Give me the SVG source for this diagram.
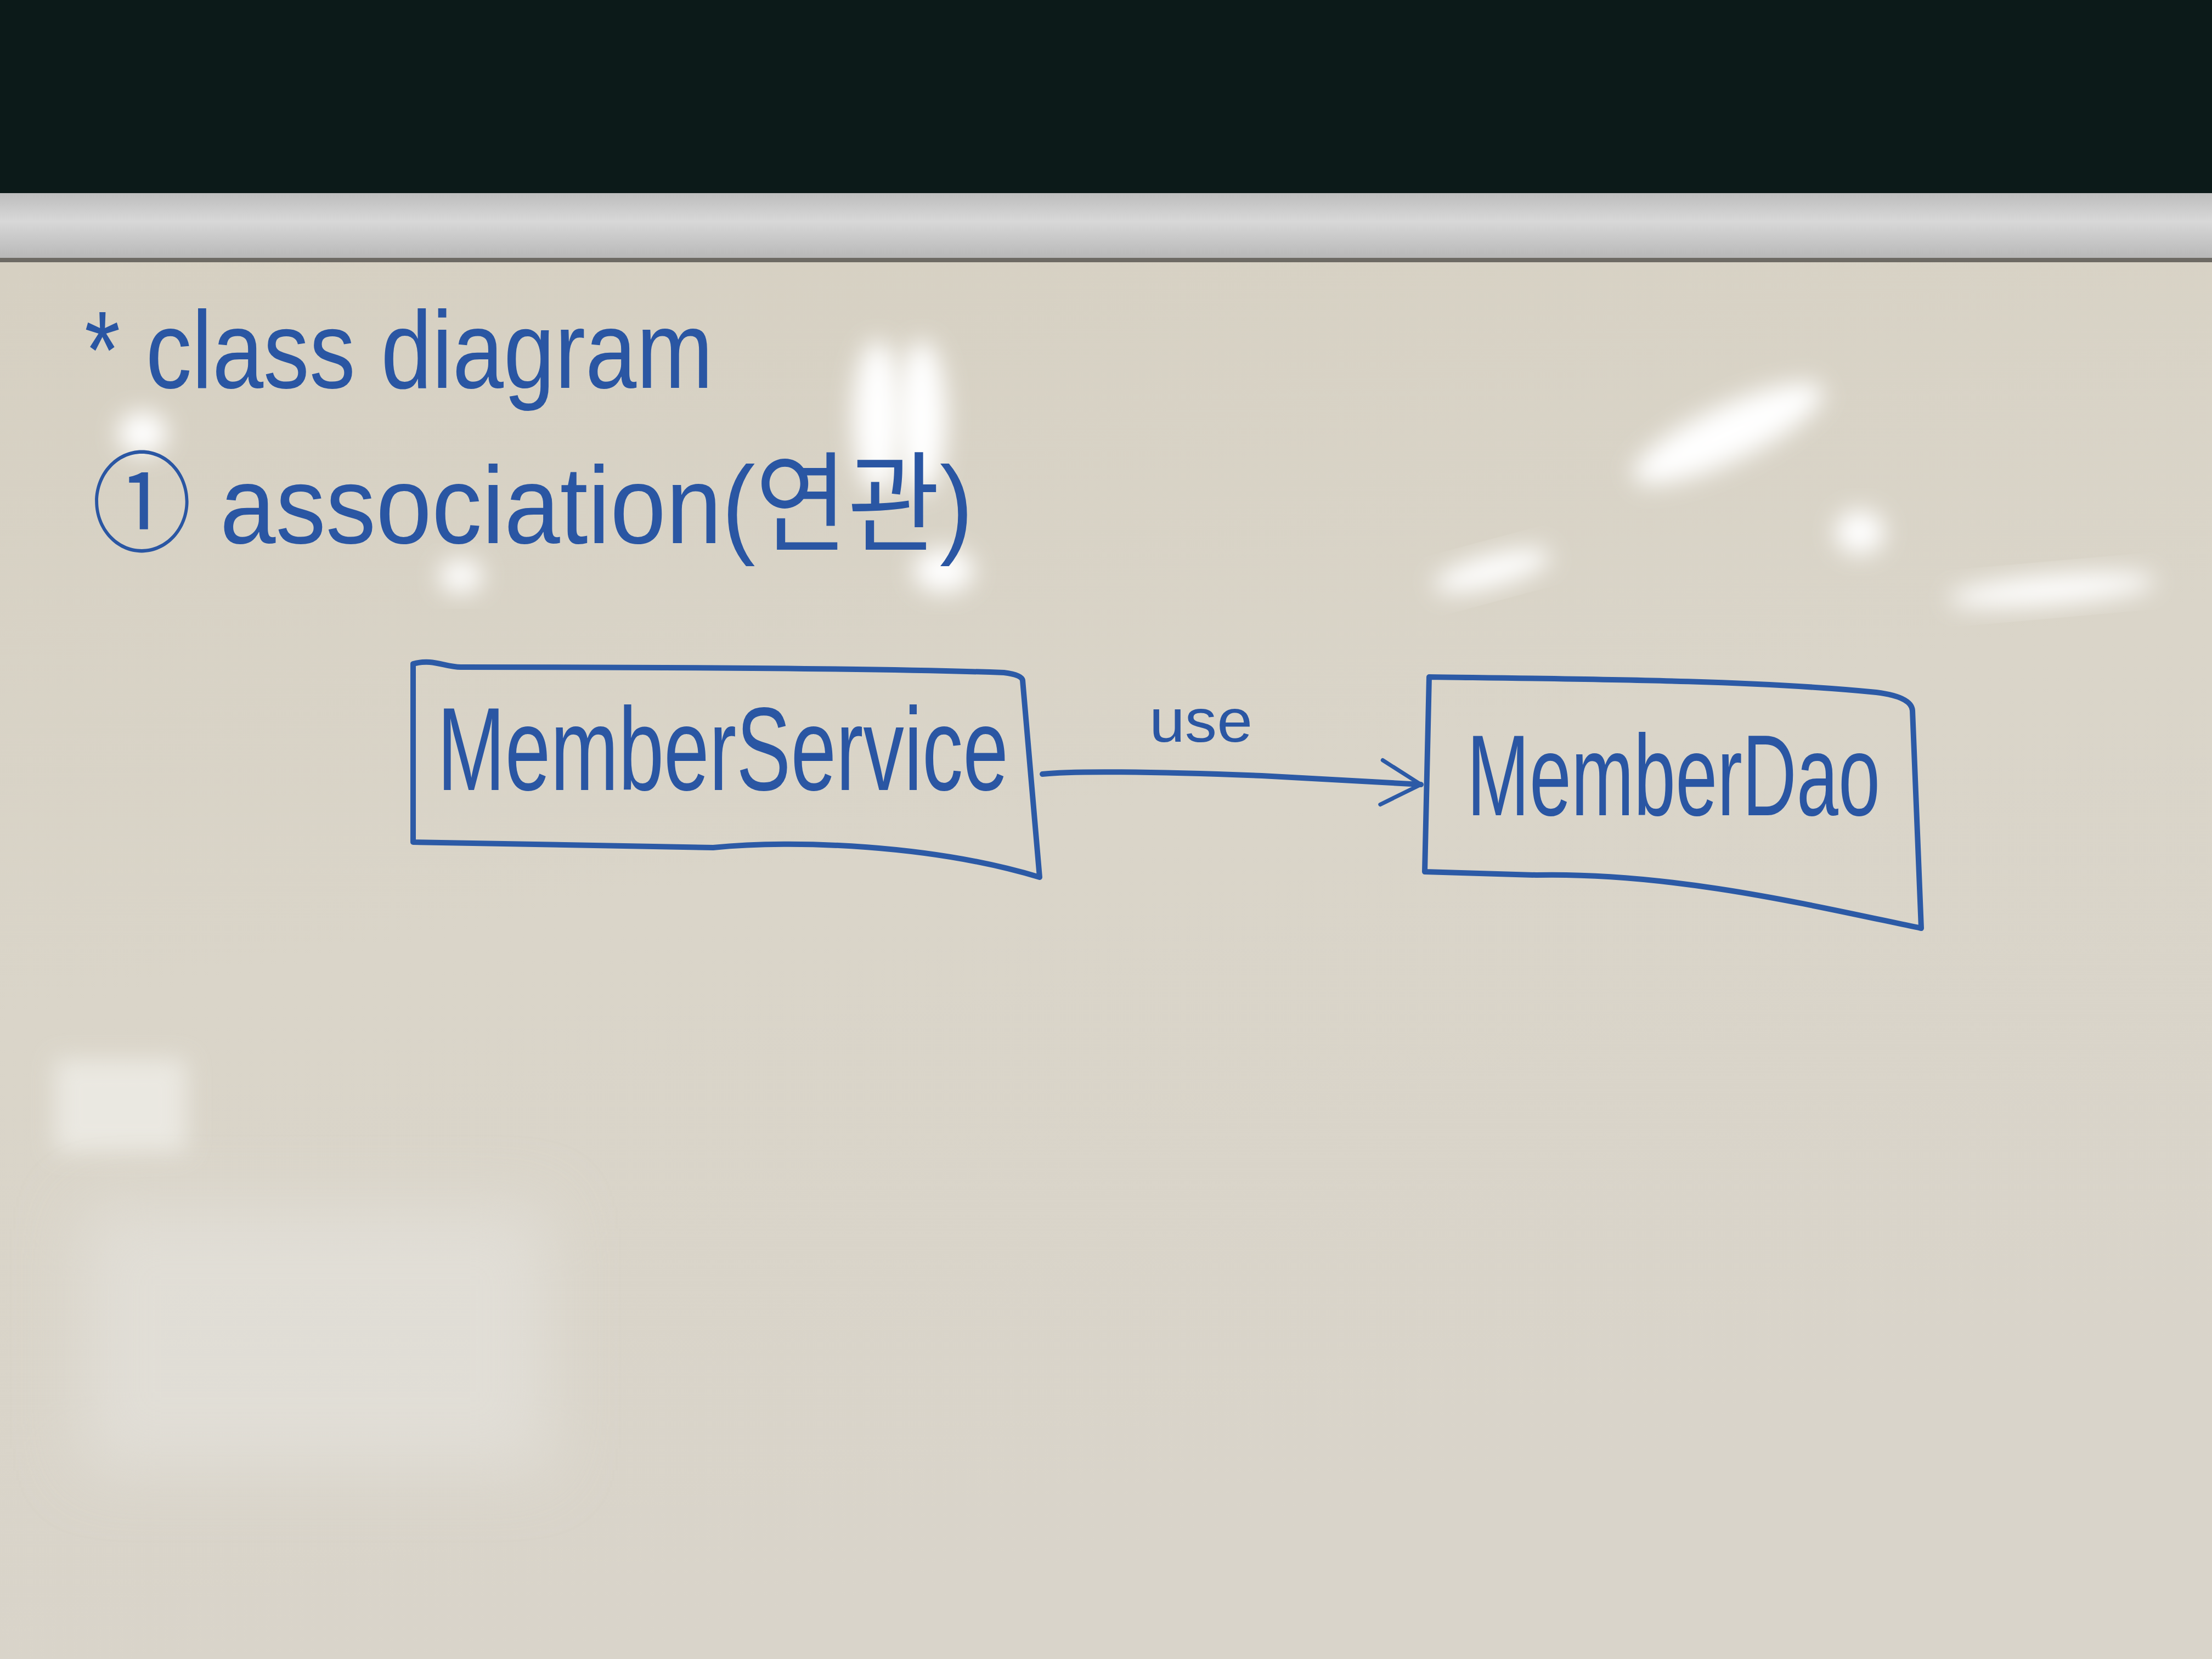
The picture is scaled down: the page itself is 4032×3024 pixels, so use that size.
<svg xmlns="http://www.w3.org/2000/svg" width="4032" height="3024" viewBox="0 0 4032 3024">
<defs>
<linearGradient id="board" x1="0" y1="0" x2="0.3" y2="1">
<stop offset="0" stop-color="#d6d0c2"/>
<stop offset="0.5" stop-color="#dad5c9"/>
<stop offset="1" stop-color="#d9d4ca"/>
</linearGradient>
<linearGradient id="rail" x1="0" y1="0" x2="0" y2="1">
<stop offset="0" stop-color="#bdbdbd"/>
<stop offset="0.4" stop-color="#d8d8d8"/>
<stop offset="1" stop-color="#b3b3b3"/>
</linearGradient>
<filter id="blur" x="-50%" y="-50%" width="200%" height="200%"><feGaussianBlur stdDeviation="22"/></filter>
<filter id="blurBig" x="-50%" y="-50%" width="200%" height="200%"><feGaussianBlur stdDeviation="60"/></filter>
<marker id="open" viewBox="0 0 20 20" refX="18" refY="10" markerWidth="9" markerHeight="9" orient="auto" markerUnits="strokeWidth">
<path d="M2,1 L18,10 L2,19" fill="none" stroke="#2c5aa6" stroke-width="1.6" stroke-linecap="round" stroke-linejoin="round"/>
</marker>
<style>
.ink{fill:none;stroke:#2c5aa6;stroke-width:10;stroke-linecap:round;stroke-linejoin:round}
.hand{fill:#2a56a3;font-family:"Liberation Sans","Noto Sans CJK KR",sans-serif;font-weight:normal}
</style>
</defs>
<rect x="0" y="0" width="4032" height="360" fill="#0c1a19"/>
<rect x="0" y="352" width="4032" height="128" fill="url(#rail)"/>
<rect x="0" y="470" width="4032" height="8" fill="#6d6a64"/>
<rect x="0" y="478" width="4032" height="2546" fill="url(#board)"/>
<g id="glare">
<ellipse cx="1600" cy="760" rx="45" ry="140" fill="#ffffff" filter="url(#blur)"/>
<ellipse cx="1680" cy="760" rx="45" ry="140" fill="#ffffff" filter="url(#blur)"/>
<ellipse cx="3150" cy="790" rx="190" ry="50" fill="#ffffff" filter="url(#blur)" transform="rotate(-25 3150 790)"/>
<ellipse cx="2720" cy="1040" rx="110" ry="28" fill="#ffffff" filter="url(#blur)" transform="rotate(-15 2720 1040)"/>
<ellipse cx="3740" cy="1075" rx="190" ry="26" fill="#ffffff" filter="url(#blur)" transform="rotate(-5 3740 1075)"/>
<ellipse cx="260" cy="790" rx="45" ry="40" fill="#ffffff" filter="url(#blur)"/>
<ellipse cx="1720" cy="1040" rx="55" ry="40" fill="#ffffff" filter="url(#blur)"/>
<ellipse cx="840" cy="1050" rx="40" ry="30" fill="#ffffff" filter="url(#blur)"/>
<ellipse cx="3390" cy="970" rx="45" ry="40" fill="#ffffff" filter="url(#blur)"/>
<rect x="100" y="1930" width="240" height="170" fill="#f2f1ec" filter="url(#blur)" opacity="0.7"/>
<rect x="150" y="2200" width="850" height="480" fill="#e6e4df" filter="url(#blurBig)" opacity="0.6"/>
</g>
<g id="title">
<text class="hand" x="154" y="707" font-size="200" textLength="1146" lengthAdjust="spacingAndGlyphs">* class diagram</text>
</g>
<g id="subtitle">
<text class="hand" x="167" y="990" font-size="200" textLength="1607" lengthAdjust="spacingAndGlyphs">① association(연관)</text>
</g>
<g id="MemberService">
<path class="ink" d="M753,1210 C790,1200 810,1216 840,1216 C1200,1216 1600,1218 1830,1226 Q1862,1230 1864,1240 L1895,1599 C1700,1540 1450,1530 1300,1545 L753,1535 Z"/>
<text class="hand" x="797" y="1440" font-size="215" textLength="1041" lengthAdjust="spacingAndGlyphs">MemberService</text>
</g>
<g id="MemberDao">
<path class="ink" d="M2605,1234 C2900,1238 3200,1240 3420,1262 Q3484,1270 3486,1295 L3502,1692 C3300,1650 3050,1590 2800,1595 L2597,1589 Z"/>
<text class="hand" x="2674" y="1486" font-size="210" textLength="753" lengthAdjust="spacingAndGlyphs">MemberDao</text>
</g>
<g id="connectors">
<path class="ink" d="M1900,1411 C1950,1405 2100,1406 2300,1414 L2590,1430" marker-end="url(#open)"/>
<text class="hand" x="2095" y="1352" font-size="112" textLength="188" lengthAdjust="spacingAndGlyphs">use</text>
</g>
</svg>
